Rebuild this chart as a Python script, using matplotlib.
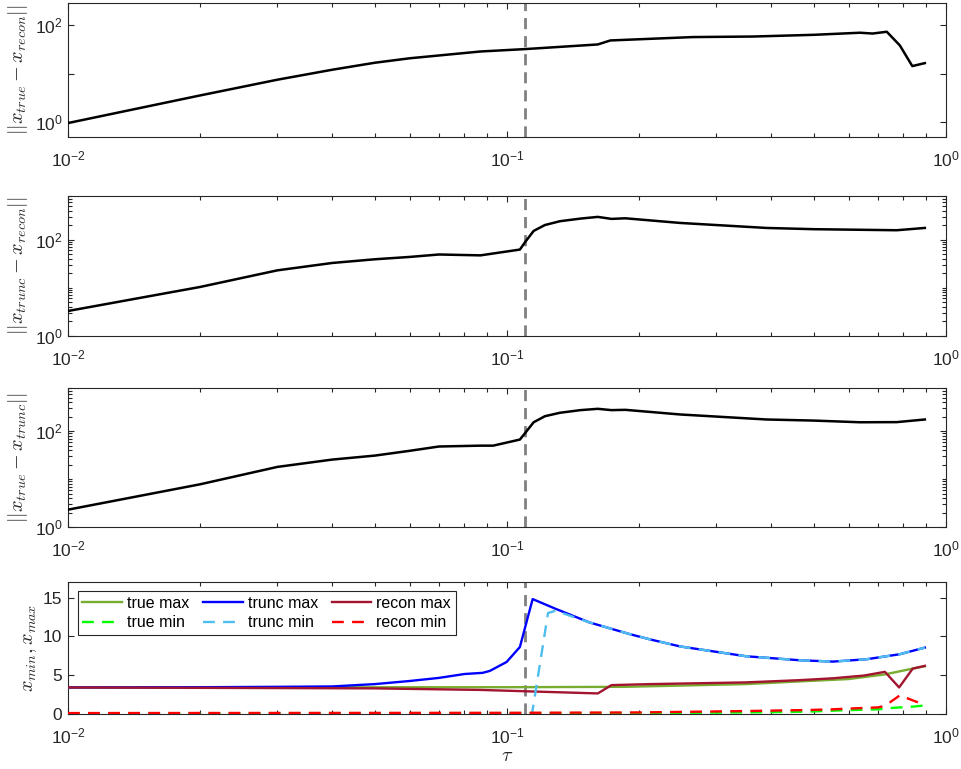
import math
import matplotlib
matplotlib.use("Agg")
import matplotlib.pyplot as plt
from matplotlib.ticker import FixedLocator, FuncFormatter, NullLocator, LogLocator, NullFormatter

plt.rcParams['font.family'] = ['Liberation Sans', 'DejaVu Sans']
plt.rcParams['mathtext.fontset'] = 'cm'

# --- error norms versus tau -------------------------------------------------
tau_err1 = [0.01, 0.02, 0.03, 0.04, 0.05, 0.06, 0.087, 0.11, 0.161, 0.172, 0.265,
            0.363, 0.5, 0.637, 0.68, 0.733, 0.785, 0.838, 0.895]
err_true_recon = [0.97, 3.6, 7.6, 12.2, 17, 21, 29, 32.5, 40.5, 49, 57.5,
                  59, 64, 70.7, 68, 74, 38.7, 14.5, 16.7]

tau_err2 = [0.01, 0.02, 0.03, 0.04, 0.05, 0.06, 0.07, 0.087, 0.107, 0.11, 0.115,
            0.122, 0.132, 0.147, 0.161, 0.173, 0.186, 0.248, 0.39, 0.5, 0.772, 0.895]
err_trunc_recon = [3.3, 10.4, 23, 32.7, 39, 43.6, 49, 47, 62, 89, 151,
                   200, 240, 272, 295, 268, 276, 221, 174, 164, 156, 174]

tau_err3 = [0.01, 0.02, 0.03, 0.04, 0.05, 0.06, 0.07, 0.087, 0.093, 0.107, 0.11,
            0.115, 0.122, 0.132, 0.147, 0.161, 0.173, 0.186, 0.248, 0.39, 0.5,
            0.637, 0.772, 0.895]
err_true_trunc = [2.3, 7.8, 18, 25.6, 31, 39, 48, 50, 50, 67, 92,
                  154, 206, 243, 276, 294, 276, 280, 224, 176, 167,
                  154, 155, 176]

# --- extreme values versus tau ----------------------------------------------
tau_true_max = [0.01, 0.1, 0.186, 0.35, 0.465, 0.6, 0.726, 0.84, 0.895]
true_max = [3.42, 3.45, 3.5, 3.85, 4.2, 4.5, 5.1, 5.85, 6.15]

tau_true_min = [0.01, 0.2, 0.35, 0.48, 0.6, 0.7, 0.76, 0.84, 0.895]
true_min = [0.1, 0.12, 0.2, 0.3, 0.5, 0.6, 0.8, 0.95, 1.1]

tau_trunc_max = [0.01, 0.02, 0.03, 0.04, 0.05, 0.06, 0.07, 0.08, 0.088, 0.0914,
                 0.0998, 0.107, 0.1144, 0.129, 0.154, 0.19, 0.212, 0.248, 0.35,
                 0.465, 0.553, 0.659, 0.785, 0.895]
trunc_max = [3.42, 3.45, 3.5, 3.55, 3.85, 4.25, 4.65, 5.15, 5.3, 5.55,
             6.7, 8.63, 14.8, 13.55, 11.8, 10.3, 9.6, 8.7, 7.44,
             6.92, 6.75, 7.05, 7.7, 8.55]

tau_trunc_min = [0.01, 0.114, 0.124, 0.129, 0.154, 0.19, 0.212, 0.248, 0.35,
                 0.465, 0.553, 0.659, 0.785, 0.895]
trunc_min = [0, 0, 13.0, 13.3, 11.8, 10.3, 9.6, 8.7, 7.44,
             6.92, 6.75, 7.05, 7.7, 8.55]

tau_recon_max = [0.01, 0.05, 0.087, 0.161, 0.173, 0.212, 0.35, 0.465, 0.553,
                 0.65, 0.726, 0.782, 0.84, 0.895]
recon_max = [3.42, 3.3, 3.1, 2.65, 3.72, 3.85, 4.07, 4.36, 4.6,
             4.95, 5.43, 3.42, 5.85, 6.2]

tau_recon_min = [0.01, 0.1, 0.2, 0.35, 0.48, 0.55, 0.62, 0.7, 0.726, 0.785, 0.895]
recon_min = [0.12, 0.15, 0.2, 0.38, 0.51, 0.6, 0.73, 0.85, 1.05, 2.4, 1.15]

tau_cut = 0.11

AX_COLOR = '#262626'

fig = plt.figure(figsize=(9.62, 7.69), dpi=100)
W, H = 962.0, 769.0
left, right = 68, 946
boxes = [(3, 137), (196, 336), (388, 527), (582, 714)]
axes = []
for top, bot in boxes:
    ax = fig.add_axes([left / W, 1 - bot / H, (right - left) / W, (bot - top) / H])
    axes.append(ax)


def log_label(v, pos):
    e = int(round(math.log10(v)))
    return r'$\mathregular{10^{%d}}$' % e


def style_axis(ax):
    ax.set_xscale('log')
    ax.set_xlim(0.01, 1)
    ax.xaxis.set_major_locator(FixedLocator([0.01, 0.1, 1]))
    ax.xaxis.set_major_formatter(FuncFormatter(log_label))
    ax.xaxis.set_minor_locator(LogLocator(base=10, subs=range(2, 10)))
    ax.xaxis.set_minor_formatter(NullFormatter())
    for sp in ax.spines.values():
        sp.set_color(AX_COLOR)
        sp.set_linewidth(0.8)
    ax.tick_params(which='both', direction='in', top=True, right=True,
                   colors=AX_COLOR, labelsize=12.5, width=0.8)
    ax.tick_params(which='major', length=4.5)
    ax.tick_params(which='minor', length=3)
    ax.tick_params(axis='x', pad=9)
    ax.tick_params(axis='y', pad=4)
    ax.axvline(tau_cut, color='#808080', lw=2, ls=(0, (4, 2.5)), zorder=1)


lw_black = 1.8
ylabel_kw = dict(fontsize=14.5, color=AX_COLOR, labelpad=3)

# panel 1
ax = axes[0]
style_axis(ax)
ax.set_yscale('log')
ax.plot(tau_err1, err_true_recon, color='k', lw=lw_black, zorder=3)
ax.set_ylim(0.5, 290)
ax.yaxis.set_major_locator(FixedLocator([1, 10, 100]))
ax.yaxis.set_major_formatter(FuncFormatter(lambda v, p: log_label(v, p) if v in (1, 100) else ''))
ax.yaxis.set_minor_locator(NullLocator())
ax.set_ylabel(r'$||x_{true} - x_{recon}||$', **ylabel_kw)

# panels 2 and 3
for ax, tx, ty, lab in [(axes[1], tau_err2, err_trunc_recon, r'$||x_{trunc} - x_{recon}||$'),
                        (axes[2], tau_err3, err_true_trunc, r'$||x_{true} - x_{trunc}||$')]:
    style_axis(ax)
    ax.set_yscale('log')
    ax.plot(tx, ty, color='k', lw=lw_black, zorder=3)
    ax.set_ylim(1, 800)
    ax.yaxis.set_major_locator(FixedLocator([1, 100]))
    ax.yaxis.set_major_formatter(FuncFormatter(log_label))
    ax.yaxis.set_minor_locator(LogLocator(base=10, subs=(1, 2, 3, 4, 5, 6, 7, 8, 9)))
    ax.yaxis.set_minor_formatter(NullFormatter())
    ax.set_ylabel(lab, **ylabel_kw)

# panel 4
ax = axes[3]
style_axis(ax)
lw_c = 1.7
dash = (0, (5, 3.5))
h_tmax, = ax.plot(tau_true_max, true_max, color='#77AC30', lw=lw_c, label='true max', zorder=3)
h_tmin, = ax.plot(tau_true_min, true_min, color='#00FF00', lw=lw_c, ls=dash, label='true min', zorder=3)
h_cmax, = ax.plot(tau_trunc_max, trunc_max, color='#0000FF', lw=lw_c, label='trunc max', zorder=3)
h_cmin, = ax.plot(tau_trunc_min, trunc_min, color='#4DBEEE', lw=lw_c, ls=dash, label='trunc min', zorder=4)
h_rmax, = ax.plot(tau_recon_max, recon_max, color='#A2142F', lw=lw_c, label='recon max', zorder=3)
h_rmin, = ax.plot(tau_recon_min, recon_min, color='#FF0000', lw=lw_c, ls=dash, label='recon min', zorder=4)
ax.set_ylim(0, 17)
ax.yaxis.set_major_locator(FixedLocator([0, 5, 10, 15]))
ax.yaxis.set_minor_locator(NullLocator())
ax.set_ylabel(r'$x_{min}, x_{max}$', **ylabel_kw)
ax.set_xlabel(r'$\tau$', fontsize=14.5, color=AX_COLOR, labelpad=0)

leg = ax.legend(handles=[h_tmax, h_tmin, h_cmax, h_cmin, h_rmax, h_rmin],
                ncol=3, loc='upper left', bbox_to_anchor=(0.011, 0.934),
                borderaxespad=0, fontsize=11.5, frameon=True, fancybox=False,
                handlelength=2.5, handletextpad=0.3, columnspacing=0.85,
                labelspacing=0.3, borderpad=0.3)
leg.get_frame().set_edgecolor(AX_COLOR)
leg.get_frame().set_linewidth(0.8)
leg.get_frame().set_alpha(1)

fig.savefig('out.png', dpi=100)
